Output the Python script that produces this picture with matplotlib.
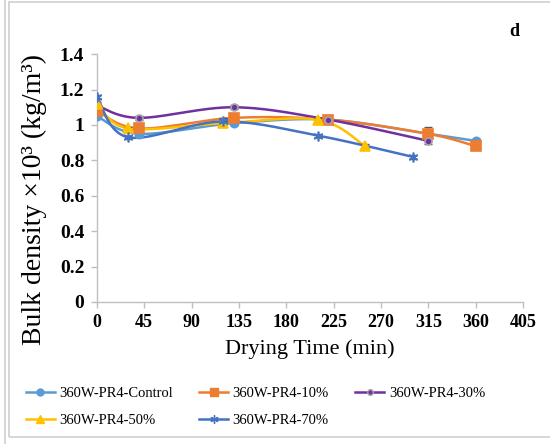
import numpy as np
import matplotlib.pyplot as plt
from matplotlib.lines import Line2D
from matplotlib.patches import Rectangle

# bulk density (x10^3 kg/m3) against drying time (min), 360 W, PR4
t_control = [0, 40, 130, 220, 315, 360]
control = [1.05, 0.95, 1.01, 1.03, 0.95, 0.91]
err_control = [0.01, 0.01, 0.01, 0.01, 0.04, 0.01]

t_10 = [0, 40, 130, 220, 315, 360]
pr_10 = [1.08, 0.98, 1.04, 1.03, 0.95, 0.88]
err_10 = [0.02, 0.01, 0.01, 0.01, 0.01, 0.01]

t_30 = [0, 40, 130, 220, 315]
pr_30 = [1.11, 1.04, 1.10, 1.03, 0.91]
err_30 = [0.01, 0.01, 0.01, 0.01, 0.02]

t_50 = [0, 30, 120, 210, 255]
pr_50 = [1.12, 0.98, 1.01, 1.03, 0.88]
err_50 = [0.01, 0.01, 0.01, 0.01, 0.01]

t_70 = [0, 30, 120, 210, 300]
pr_70 = [1.16, 0.93, 1.02, 0.94, 0.82]
err_70 = [0.01, 0.01, 0.02, 0.01, 0.01]

x_ticks = [0, 45, 90, 135, 180, 225, 270, 315, 360, 405]
y_ticks = [0, 0.2, 0.4, 0.6, 0.8, 1.0, 1.2, 1.4]
y_tick_labels = ['0', '0.2', '0.4', '0.6', '0.8', '1', '1.2', '1.4']


def smooth(xs, ys, n=40):
    """Excel style smoothed line: cubic bezier through every point."""
    p = np.column_stack([xs, ys]).astype(float)
    pts = []
    for i in range(len(p) - 1):
        p0 = p[i - 1] if i > 0 else p[i]
        p3 = p[i + 2] if i + 2 < len(p) else p[i + 1]
        c1 = p[i] + (p[i + 1] - p0) / 6
        c2 = p[i + 1] - (p3 - p[i]) / 6
        s = np.linspace(0, 1, n)[:, None]
        seg = ((1 - s) ** 3 * p[i] + 3 * (1 - s) ** 2 * s * c1
               + 3 * (1 - s) * s ** 2 * c2 + s ** 3 * p[i + 1])
        pts.append(seg if i == 0 else seg[1:])
    pts = np.vstack(pts)
    return pts[:, 0], pts[:, 1]


plt.rcParams['font.family'] = ['Liberation Serif', 'DejaVu Serif']

fig = plt.figure(figsize=(5.5, 4.44), dpi=100)
ax = fig.add_axes([0.176, 0.320, 0.775, 0.558])

series = [
    (t_control, control, err_control, '#5B9BD5', 'o', 6, '#5B9BD5', '360W-PR4-Control'),
    (t_10, pr_10, err_10, '#ED7D31', 's', 6.5, '#ED7D31', '360W-PR4-10%'),
    (t_30, pr_30, err_30, '#7030A0', 'o', 5, '#A5A5A5', '360W-PR4-30%'),
    (t_50, pr_50, err_50, '#FFC000', '^', 7, '#FFC000', '360W-PR4-50%'),
    (t_70, pr_70, err_70, '#4472C4', (6, 2, 0), 7, '#4472C4', '360W-PR4-70%'),
]

handles = []
for t, v, e, col, mk, ms, mec, lab in series:
    sx, sy = smooth(t, v)
    ax.plot(sx, sy, color=col, lw=1.8, zorder=2)
    ax.errorbar(t, v, yerr=e, fmt='none', ecolor='#595959', elinewidth=1,
                capsize=3, zorder=3)
    ax.plot(t, v, ls='none', marker=mk, ms=ms, color=col, mec=mec,
            mew=1.2, zorder=4)
    handles.append(Line2D([], [], color=col, lw=1.8, marker=mk, ms=ms - 1,
                          mec=mec, mfc=col, label=lab))

ax.set_xlim(0, 405)
ax.set_ylim(0, 1.4)
ax.set_xticks(x_ticks)
ax.set_yticks(y_ticks)
ax.set_yticklabels(y_tick_labels)
for lbl in ax.get_xticklabels():
    lbl.set_fontweight('bold')
    lbl.set_fontsize(13)
for lbl in ax.get_yticklabels():
    lbl.set_fontweight('bold')
    lbl.set_fontsize(14)

for side in ['top', 'right']:
    ax.spines[side].set_visible(False)
for side in ['left', 'bottom']:
    ax.spines[side].set_color('#BFBFBF')
    ax.spines[side].set_linewidth(1)
ax.tick_params(axis='both', direction='out', length=4, color='#BFBFBF',
               width=1, pad=5)

ax.set_xlabel('Drying Time (min)', fontsize=16, labelpad=6)
ax.set_ylabel('Bulk density \u00d710\u00b3 (kg/m\u00b3)', fontsize=20)
ax.yaxis.set_label_coords(-0.117, 0.415)

fig.text(0.935, 0.93, 'd', fontsize=13, fontweight='bold', ha='center', va='center')

# legend filled row by row: Control, 10%, 30% / 50%, 70%
order = [0, 3, 1, 4, 2]
fig.legend(handles=[handles[i] for i in order], ncol=3, loc='upper left',
           bbox_to_anchor=(0.036, 0.142), frameon=False, fontsize=10.5,
           handlelength=2.0, handletextpad=0.3, columnspacing=1.8,
           labelspacing=0.95, borderaxespad=0)

# chart area border
fig.add_artist(Rectangle((9 / 550, 7 / 444), 1.0, 435 / 444,
                         transform=fig.transFigure, fill=False,
                         edgecolor='#D0D0D0', lw=1.2))
fig.add_artist(Line2D([5 / 550, 5 / 550], [0, 1], transform=fig.transFigure,
                      color='#D0D0D0', lw=1.2))

fig.savefig('out.png', dpi=100)
